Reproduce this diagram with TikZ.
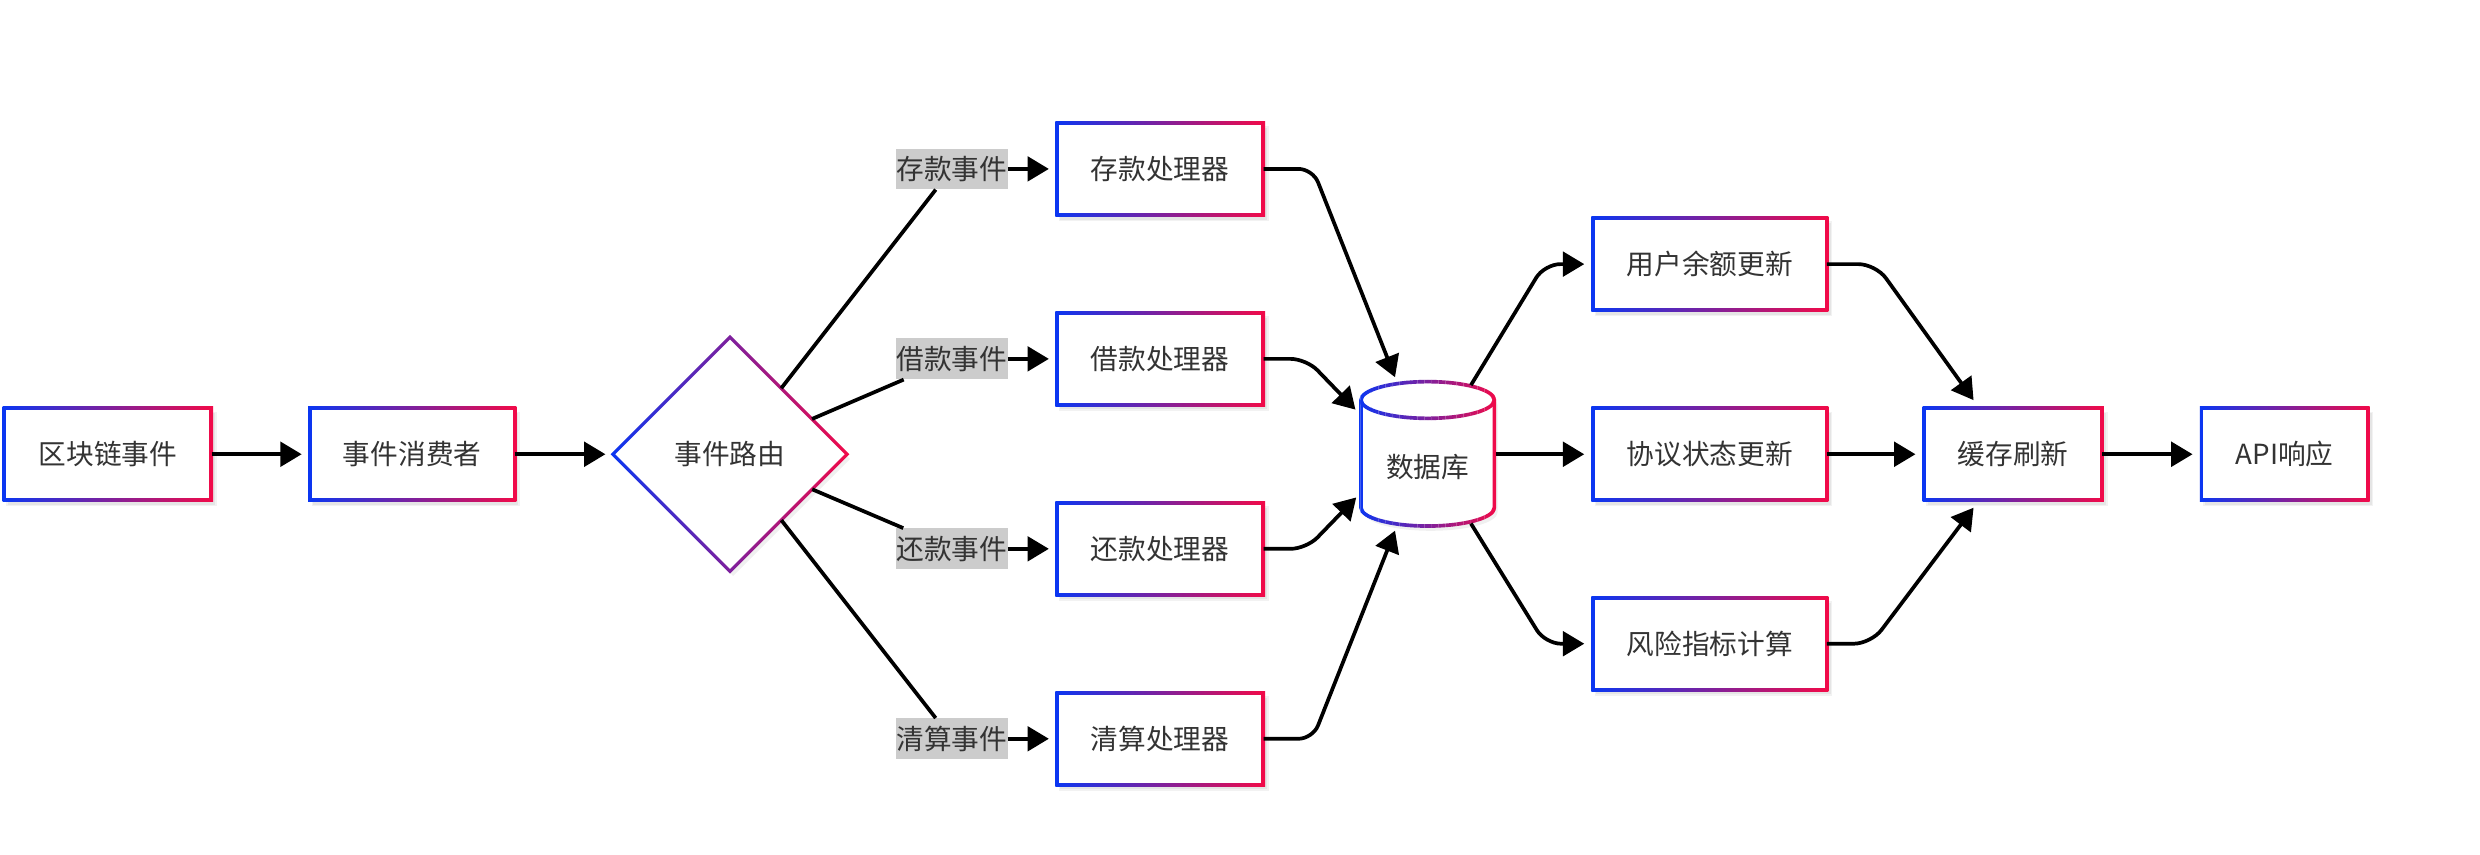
\documentclass[tikz,border=0pt]{standalone}
\usepackage{fontspec}
\setmainfont{Noto Sans CJK SC}
\usetikzlibrary{shapes.geometric,arrows.meta}
\definecolor{gb}{HTML}{0A36F2}
\definecolor{gr}{HTML}{F20A48}
\definecolor{txt}{HTML}{333333}
\definecolor{lblbg}{HTML}{CCCCCC}
\newcommand\gradrect[5]{%
  \fill[black,opacity=0.05] (#2-#4/2+1,#3-29+2) rectangle (#2+#4/2+3.5,#3+29+4);
  \fill[black,opacity=0.05] (#2-#4/2+2,#3-29+3) rectangle (#2+#4/2+2.5,#3+29+3);
  \shade[left color=gb,right color=gr] (#2-#4/2-1.15,#3-30.15) rectangle (#2+#4/2+1.15,#3+30.15);
  \fill[white] (#2-#4/2+1.15,#3-27.85) rectangle (#2+#4/2-1.15,#3+27.85);
  \node[box,minimum width=#4pt] (#1) at (#2,#3) {#5};
}
\newcommand\cylpath{(860.5,252.9) arc[start angle=180,end angle=0,x radius=42.15pt,y radius=11.6pt] -- (944.8,321) arc[start angle=0,end angle=-180,x radius=42.15pt,y radius=11.6pt] -- cycle}
\begin{document}
\begin{tikzpicture}[x=1pt,y=-1pt,
  font=\fontsize{17.5}{21}\selectfont,
  box/.style={rectangle,minimum height=58pt,inner sep=0pt,text=txt},
  lbl/.style={rectangle,fill=lblbg,minimum width=70.6pt,minimum height=25.8pt,inner sep=0pt,text=txt},
  conn/.style={line width=2.35pt,-{Triangle[length=13.5pt,width=15.5pt]},line join=round},
  plain/.style={line width=2.35pt}]
\useasboundingbox (0,0) rectangle (1568,540);
\fill[white] (0,0) rectangle (1568,540);

% boxes
\gradrect{b1}{68.2}{287.2}{130.7}{区块链事件}
\gradrect{b2}{260.6}{287.2}{129.3}{事件消费者}
\gradrect{p1}{733.5}{106.8}{130.3}{存款处理器}
\gradrect{p2}{733.5}{226.9}{130.3}{借款处理器}
\gradrect{p3}{733.5}{347}{130.3}{还款处理器}
\gradrect{p4}{733.5}{467.1}{130.3}{清算处理器}
\gradrect{s1}{1081.1}{167}{147.5}{用户余额更新}
\gradrect{s2}{1081.1}{287.2}{147.5}{协议状态更新}
\gradrect{s3}{1081.1}{407}{147.5}{风险指标计算}
\gradrect{cache}{1272.9}{287.2}{112.3}{缓存刷新}
\gradrect{api}{1444.5}{287.2}{105.1}{API响应}

% diamond
\fill[black,opacity=0.06] (389.5,290.2) -- (463.5,216.2) -- (537.5,290.2) -- (463.5,364.2) -- cycle;
\shade[left color=gb,right color=gr] (386,287.2) -- (461.5,211.7) -- (537,287.2) -- (461.5,362.7) -- cycle;
\fill[white] (389,287.2) -- (461.5,214.7) -- (534,287.2) -- (461.5,359.7) -- cycle;
\node[diamond,aspect=1,minimum width=148pt,minimum height=148pt,inner sep=0pt,text=txt] (dia) at (461.5,287.2) {事件路由};

% database cylinder
\fill[black,opacity=0.06,shift={(2,3)}] \cylpath;
\fill[white] \cylpath;
\foreach \i in {0,...,39} {
  \pgfmathsetmacro\p{\i*100/39}
  \begin{scope}
    \clip (858+\i*2.24,225) rectangle (858+\i*2.24+2.3,345);
    \draw[line width=2.3pt,color=gr!\p!gb] \cylpath;
    \draw[line width=2.3pt,color=gr!\p!gb] (860.5,252.9) arc[start angle=180,end angle=360,x radius=42.15pt,y radius=11.6pt];
  \end{scope}
}
\node[text=txt] (db) at (902.6,295) {数据库};
\coordinate (dbA) at (882,238.5);
\coordinate (dbB) at (857,259);
\coordinate (dbC) at (857.5,314.5);
\coordinate (dbD) at (882,335.5);
\coordinate (dbE) at (945.9,287.2);
\coordinate (dbF) at (930,243.5);
\coordinate (dbG) at (930,331);
\coordinate (cT) at (1247.8,253);
\coordinate (cB) at (1247.8,321);

% labels
\node[lbl] (l1) at (601.8,106.8) {存款事件};
\node[lbl] (l2) at (601.8,226.9) {借款事件};
\node[lbl] (l3) at (601.8,347) {还款事件};
\node[lbl] (l4) at (601.8,467.1) {清算事件};

% connectors
\draw[conn,shorten >=5pt] (b1) -- (b2);
\draw[conn,shorten >=4.5pt] (b2) -- (dia);
\foreach \k in {1,...,4} {
  \draw[plain] (dia) -- (l\k);
  \draw[conn,shorten >=5pt] (l\k) -- (p\k);
}
\draw[conn,rounded corners=9pt] (p1.east) -- (830,106.8) -- (dbA);
\draw[conn,rounded corners=10pt] (p2.east) -- (826,226.9) -- (dbB);
\draw[conn,rounded corners=10pt] (p3.east) -- (826,347) -- (dbC);
\draw[conn,rounded corners=9pt] (p4.east) -- (830,467.1) -- (dbD);
\draw[conn,shorten >=5.5pt] (dbE) -- (s2);
\draw[conn,rounded corners=10pt,shorten >=5.5pt] (dbF) -- (976.5,167) -- (s1.west);
\draw[conn,rounded corners=10pt,shorten >=5.5pt] (dbG) -- (977,407) -- (s3.west);
\draw[conn,rounded corners=11pt] (s1.east) -- (1186,167) -- (cT);
\draw[conn,rounded corners=11pt] (s3.east) -- (1183,407) -- (cB);
\draw[conn,shorten >=5.5pt] (s2) -- (cache);
\draw[conn,shorten >=5.5pt] (cache) -- (api);
\end{tikzpicture}
\end{document}
